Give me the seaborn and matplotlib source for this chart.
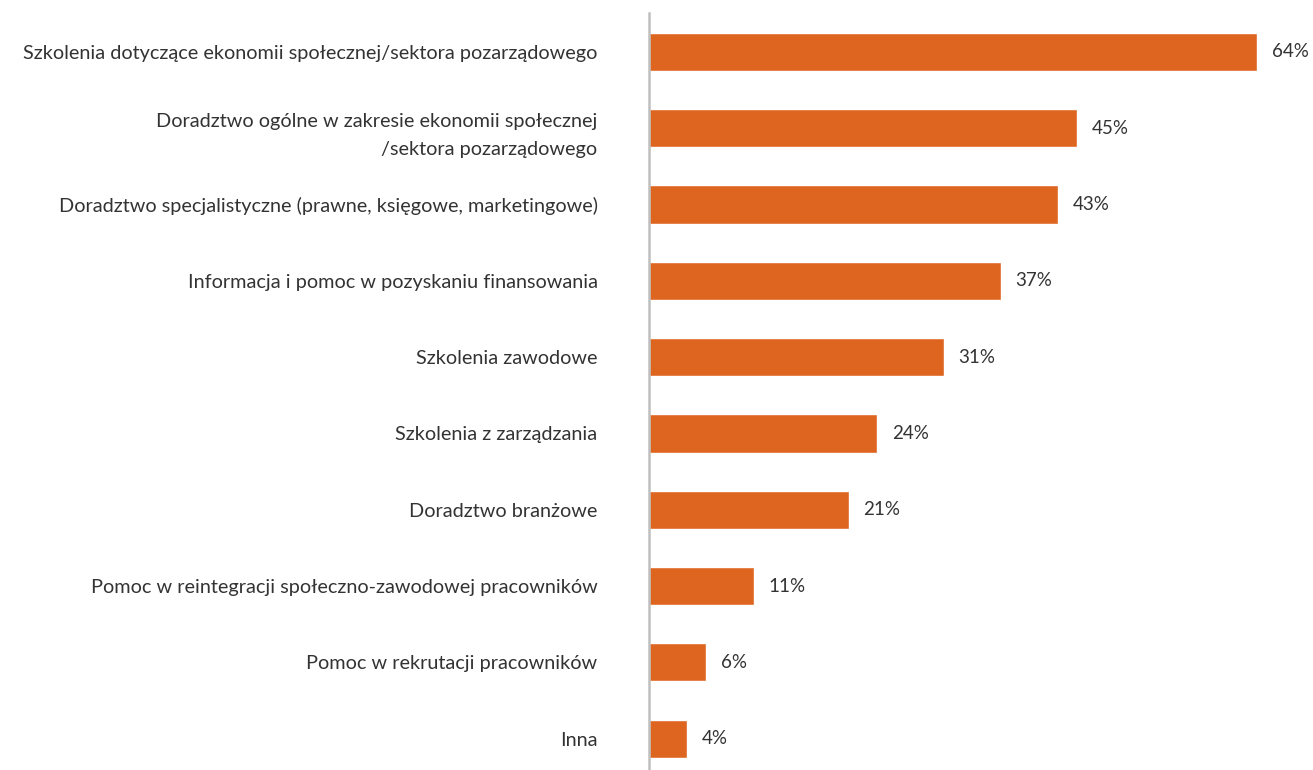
import matplotlib
matplotlib.use("Agg")
import matplotlib.pyplot as plt
import seaborn as sns
import pandas as pd

categories = [
    "Szkolenia dotyczące ekonomii społecznej/sektora pozarządowego",
    "Doradztwo ogólne w zakresie ekonomii społecznej\n/sektora pozarządowego",
    "Doradztwo specjalistyczne (prawne, księgowe, marketingowe)",
    "Informacja i pomoc w pozyskaniu finansowania",
    "Szkolenia zawodowe",
    "Szkolenia z zarządzania",
    "Doradztwo branżowe",
    "Pomoc w reintegracji społeczno-zawodowej pracowników",
    "Pomoc w rekrutacji pracowników",
    "Inna",
]
values = [64, 45, 43, 37, 31, 24, 21, 11, 6, 4]
value_labels = [f"{v}%" for v in values]

df = pd.DataFrame({"kategoria": categories, "procent": values})

sns.set_theme(style="white")
plt.rcParams["font.family"] = ["Lato", "DejaVu Sans"]

fig = plt.figure(figsize=(13.13, 7.70), dpi=100)
ax = fig.add_axes([649 / 1313, 0.0, 651 / 1313, 1 - 13 / 770])

bar_color = "#DE6520"
sns.barplot(data=df, y="kategoria", x="procent", orient="h", color=bar_color,
            width=0.5, saturation=1, ax=ax)

ax.set_xlim(0, 651 / 9.5)
ax.set_ylim(9.41, -0.51)
ax.set_xlabel("")
ax.set_ylabel("")
ax.set_xticks([])

for side in ["top", "right", "bottom"]:
    ax.spines[side].set_visible(False)
ax.spines["left"].set_color("#BFBFBF")
ax.spines["left"].set_linewidth(1.8)

ax.tick_params(axis="y", length=0, pad=37)
ax.set_yticks(range(len(categories)))
ax.set_yticklabels(categories, fontsize=14.3, color="#333333", ha="right",
                   linespacing=1.8)

for i, (v, lab) in enumerate(zip(values, value_labels)):
    ax.annotate(lab, xy=(v, i), xytext=(15, 0), textcoords="offset pixels",
                va="center", ha="left", fontsize=13.5, color="#333333")

fig.savefig("out.png", dpi=100)
